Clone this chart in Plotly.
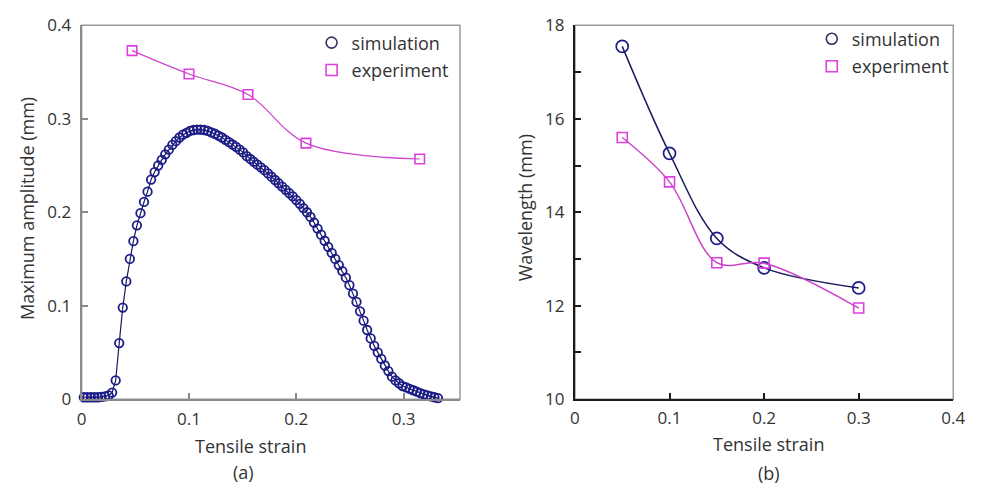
import plotly.graph_objects as go

# ---------------- data: panel (a) ----------------
strain_sim_a = [0.0020, 0.0053, 0.0086, 0.0119, 0.0152, 0.0185, 0.0218, 0.0251, 0.0284, 0.0317,
                0.0350, 0.0383, 0.0416, 0.0449, 0.0482, 0.0515, 0.0548, 0.0581, 0.0614, 0.0647,
                0.0680, 0.0713, 0.0746, 0.0779, 0.0812, 0.0845, 0.0878, 0.0911, 0.0944, 0.0977,
                0.1010, 0.1043, 0.1076, 0.1109, 0.1142, 0.1175, 0.1208, 0.1241, 0.1274, 0.1307,
                0.1340, 0.1373, 0.1406, 0.1439, 0.1472, 0.1505, 0.1538, 0.1571, 0.1604, 0.1637,
                0.1670, 0.1703, 0.1736, 0.1769, 0.1802, 0.1835, 0.1868, 0.1901, 0.1934, 0.1967,
                0.2000, 0.2033, 0.2066, 0.2099, 0.2132, 0.2165, 0.2198, 0.2231, 0.2264, 0.2297,
                0.2330, 0.2363, 0.2396, 0.2429, 0.2462, 0.2495, 0.2528, 0.2561, 0.2594, 0.2627,
                0.2660, 0.2693, 0.2726, 0.2759, 0.2792, 0.2825, 0.2858, 0.2891, 0.2924, 0.2957,
                0.2990, 0.3023, 0.3056, 0.3089, 0.3122, 0.3155, 0.3188, 0.3221, 0.3254, 0.3287,
                0.3320]
amp_sim = [0.002, 0.002, 0.002, 0.002, 0.002, 0.0025, 0.003, 0.004, 0.007, 0.020,
           0.060, 0.098, 0.126, 0.150, 0.169, 0.186, 0.199, 0.211, 0.222, 0.235,
           0.243, 0.250, 0.256, 0.262, 0.267, 0.272, 0.276, 0.280, 0.283, 0.285,
           0.287, 0.288, 0.2885, 0.2885, 0.288, 0.287, 0.2855, 0.284, 0.282, 0.280,
           0.2775, 0.275, 0.2725, 0.270, 0.267, 0.264, 0.260, 0.257, 0.254, 0.251,
           0.248, 0.245, 0.2415, 0.238, 0.2345, 0.231, 0.2275, 0.224, 0.2205, 0.217,
           0.213, 0.209, 0.2045, 0.200, 0.195, 0.189, 0.1825, 0.176, 0.1695, 0.163,
           0.1565, 0.150, 0.1435, 0.137, 0.130, 0.122, 0.113, 0.104, 0.094, 0.084,
           0.074, 0.065, 0.057, 0.050, 0.043, 0.036, 0.030, 0.024, 0.020, 0.017,
           0.014, 0.0125, 0.011, 0.0095, 0.008, 0.0065, 0.005, 0.004, 0.003, 0.002,
           0.001]
strain_exp_a = [0.047, 0.100, 0.155, 0.209, 0.315]
amp_exp = [0.373, 0.348, 0.326, 0.274, 0.257]

# ---------------- data: panel (b) ----------------
strain_b = [0.05, 0.10, 0.15, 0.20, 0.30]
wl_sim = [17.55, 15.26, 13.44, 12.81, 12.38]
wl_exp = [15.60, 14.65, 12.92, 12.91, 11.95]

# ---------------- ticks ----------------
xticks_a = [0, 0.1, 0.2, 0.3]
xticklabels_a = ["0", "0.1", "0.2", "0.3"]
yticks_a = [0, 0.1, 0.2, 0.3, 0.4]
yticklabels_a = ["0", "0.1", "0.2", "0.3", "0.4"]
xticks_b = [0, 0.1, 0.2, 0.3, 0.4]
xticklabels_b = ["0", "0.1", "0.2", "0.3", "0.4"]
yticks_b = [10, 12, 14, 16, 18]
yticklabels_b = ["10", "12", "14", "16", "18"]
yminor_b = [11, 13, 15, 17]

NAVY = "#1c1c88"
NAVY_LINE = "#1a1a5c"
MAG = "#de3fde"
MAG_LINE = "#cc44cc"
TXT = "#333333"
FONT = "Open Sans"

W, H = 981, 495

fig = go.Figure()

# panel (a)
fig.add_trace(go.Scatter(x=strain_sim_a, y=amp_sim, mode="lines+markers",
                         line=dict(color=NAVY_LINE, width=1.2),
                         marker=dict(symbol="circle-open", size=8.5, color=NAVY, line=dict(width=1.8, color=NAVY)),
                         cliponaxis=False, showlegend=False, xaxis="x", yaxis="y"))
fig.add_trace(go.Scatter(x=strain_exp_a, y=amp_exp, mode="lines+markers",
                         line=dict(color=MAG_LINE, width=1.2, shape="spline", smoothing=1),
                         marker=dict(symbol="square-open", size=9.5, color=MAG, line=dict(width=1.6, color=MAG)),
                         showlegend=False, xaxis="x", yaxis="y"))

# panel (b)
fig.add_trace(go.Scatter(x=strain_b, y=wl_sim, mode="lines+markers",
                         line=dict(color=NAVY_LINE, width=1.5, shape="spline", smoothing=1),
                         marker=dict(symbol="circle-open", size=12, color=NAVY, line=dict(width=1.7, color=NAVY)),
                         showlegend=False, xaxis="x2", yaxis="y2"))
fig.add_trace(go.Scatter(x=strain_b, y=wl_exp, mode="lines+markers",
                         line=dict(color=MAG_LINE, width=1.5, shape="spline", smoothing=1),
                         marker=dict(symbol="square-open", size=10, color=MAG, line=dict(width=1.6, color=MAG)),
                         showlegend=False, xaxis="x2", yaxis="y2"))

# legend entries (markers only)
for leg, grp in (("legend", "a"), ("legend2", "b")):
    fig.add_trace(go.Scatter(x=[None], y=[None], mode="markers", name="simulation",
                             marker=dict(symbol="circle-open", size=11, color="#333366", line=dict(width=1.6, color="#333366")),
                             legend=leg, legendgroup=grp + "1", xaxis="x" if grp == "a" else "x2",
                             yaxis="y" if grp == "a" else "y2"))
    fig.add_trace(go.Scatter(x=[None], y=[None], mode="markers", name="experiment",
                             marker=dict(symbol="square-open", size=11, color=MAG, line=dict(width=1.6, color=MAG)),
                             legend=leg, legendgroup=grp + "2", xaxis="x" if grp == "a" else "x2",
                             yaxis="y" if grp == "a" else "y2"))

ydom = [(H - 406) / H, (H - 14) / H]

def axis_common(linecolor, standoff):
    return dict(showline=True, linecolor=linecolor, linewidth=2, mirror=False,
                ticks="inside", ticklen=6, tickwidth=1.5, tickcolor=linecolor,
                showgrid=False, zeroline=False, ticklabelstandoff=standoff,
                tickfont=dict(family=FONT, size=17, color=TXT))

fig.update_layout(
    width=W, height=H,
    margin=dict(l=0, r=0, t=0, b=0),
    paper_bgcolor="white", plot_bgcolor="white",
    font=dict(family=FONT, color=TXT),
    xaxis=dict(domain=[78 / W, 463 / W], range=[0, 0.3525], anchor="y",
               tickvals=xticks_a, ticktext=xticklabels_a, **axis_common("#8a8a8a", 3)),
    yaxis=dict(domain=ydom, range=[0, 0.4], anchor="x",
               tickvals=yticks_a, ticktext=yticklabels_a, **axis_common("#8a8a8a", 5)),
    xaxis2=dict(domain=[580 / W, 965 / W], range=[0, 0.4], anchor="y2",
                tickvals=xticks_b, ticktext=xticklabels_b, **axis_common("#1a1a1a", 2)),
    yaxis2=dict(domain=ydom, range=[10, 18], anchor="x2",
                tickvals=yticks_b, ticktext=yticklabels_b,
                minor=dict(ticks="inside", ticklen=6, tickwidth=1.5, tickcolor="#1a1a1a",
                           tickvals=yminor_b),
                **axis_common("#1a1a1a", 5)),
    legend=dict(x=312 / W, xanchor="left", y=1 - 13 / H, yanchor="top",
                bgcolor="rgba(0,0,0,0)", traceorder="grouped", tracegroupgap=1,
                font=dict(family=FONT, size=18, color=TXT)),
    legend2=dict(x=821 / W, xanchor="left", y=1 - 9 / H, yanchor="top",
                 bgcolor="rgba(0,0,0,0)", traceorder="grouped", tracegroupgap=1,
                 font=dict(family=FONT, size=18, color=TXT)),
)

# thin frame on top/right of each panel
for xr, yr in (("x domain", "y domain"), ("x2 domain", "y2 domain")):
    fig.add_shape(type="rect", xref=xr, yref=yr, x0=0, x1=1, y0=0, y1=1,
                  line=dict(color="#9a9a9a", width=1.5), layer="below")

ann = [
    dict(text="Tensile strain", x=250 / W, y=1 - 455 / H),
    dict(text="(a)", x=243 / W, y=1 - 482 / H),
    dict(text="Tensile strain", x=777 / W, y=1 - 453 / H),
    dict(text="(b)", x=777 / W, y=1 - 483 / H),
    dict(text="Maximum amplitude (mm)", x=23 / W, y=1 - 206 / H, textangle=-90),
    dict(text="Wavelength (mm)", x=530 / W, y=1 - 205 / H, textangle=-90),
]
for a in ann:
    fig.add_annotation(xref="paper", yref="paper", showarrow=False,
                       xanchor="center", yanchor="middle",
                       font=dict(family=FONT, size=18, color=TXT), **a)

fig.write_html("out.html")
